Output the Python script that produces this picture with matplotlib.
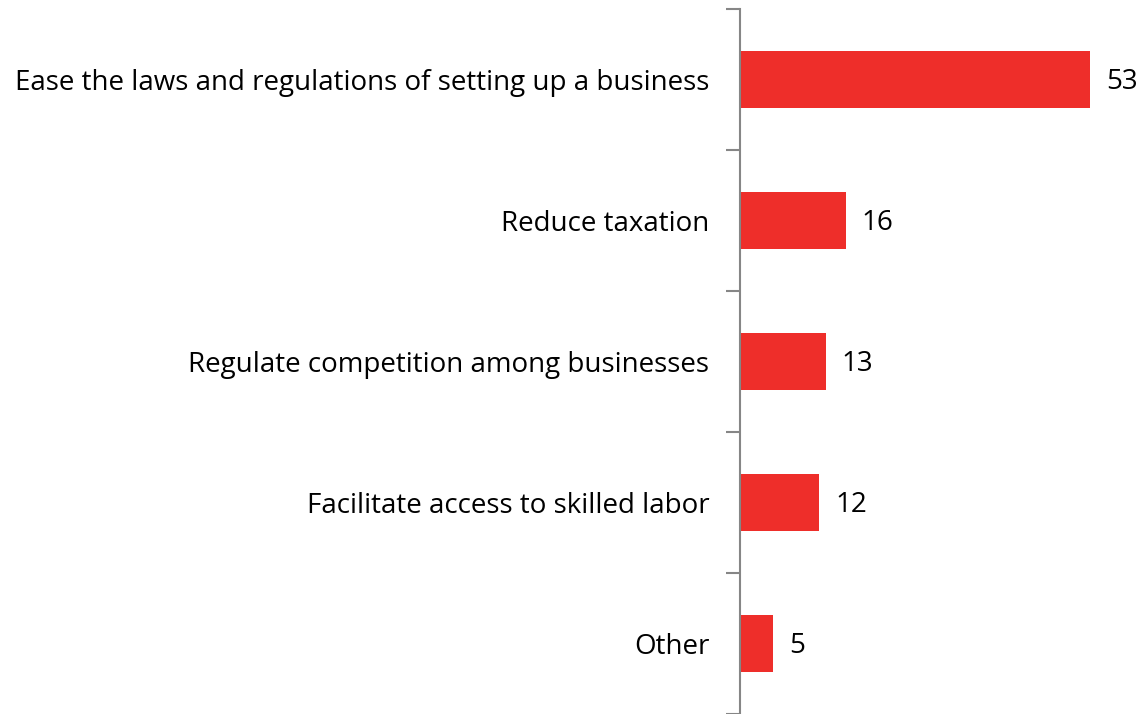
import matplotlib.pyplot as plt
import numpy as np

categories = ["Ease the laws and regulations of setting up a business",
              "Reduce taxation",
              "Regulate competition among businesses",
              "Facilitate access to skilled labor",
              "Other"]
values = [53, 16, 13, 12, 5]

bar_color = "#EE2E2A"
axis_color = "#868686"

plt.rcParams['font.family'] = ['Open Sans', 'DejaVu Sans']

fig = plt.figure(figsize=(11.41, 7.14), dpi=100)
ax = fig.add_axes([740 / 1141, 0, 1 - 740 / 1141, 705 / 714])

y = np.arange(len(categories))
ax.barh(y, values, height=0.40, color=bar_color)
ax.set_ylim(len(categories) - 0.5, -0.5)
ax.set_xlim(0, 60.7)

for yi, v in zip(y, values):
    ax.text(v + 2.4, yi + 0.02, str(v), va='center', ha='left', fontsize=20, color='black')

ax.set_yticks(y)
ax.set_yticklabels(categories, fontsize=20)
ax.tick_params(axis='y', which='major', length=0, pad=22)
ax.set_yticks(np.arange(-0.5, len(categories), 1), minor=True)
ax.tick_params(axis='y', which='minor', length=10, width=1.5, color=axis_color)

ax.set_xticks([])
for side in ['top', 'right', 'bottom']:
    ax.spines[side].set_visible(False)
ax.spines['left'].set_color(axis_color)
ax.spines['left'].set_linewidth(1.5)

fig.savefig("out.png", dpi=100)
